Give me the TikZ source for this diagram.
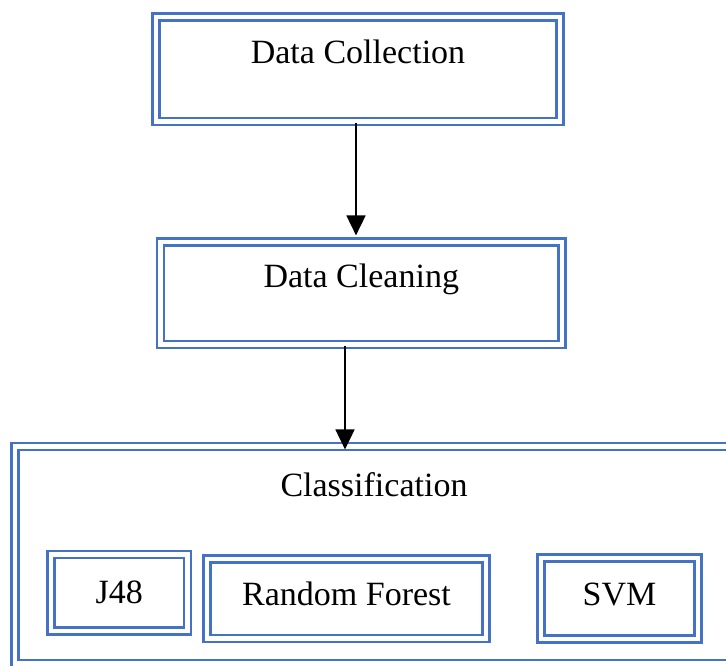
\documentclass[tikz,border=0pt]{standalone}
\usepackage{fontspec}
\setmainfont{Liberation Serif}
\usetikzlibrary{arrows.meta}
\definecolor{boxblue}{RGB}{68,114,196}
\begin{document}
\begin{tikzpicture}[x=1pt,y=-1pt,
  dbox/.style={draw=boxblue, line width=2.2pt, double=white, double distance=4.8pt,
    rectangle, inner sep=0pt, font=\fontsize{34}{40}\selectfont},
  arr/.style={-{Triangle[length=20pt,width=19pt]}, line width=1.8pt, draw=black}]
\useasboundingbox (0,0) rectangle (726,665);
\node[dbox, minimum width=404pt, minimum height=104.5pt, text height=24pt, text depth=36.5pt]
  (dc) at (358,69.25) {Data Collection};
\node[dbox, minimum width=401.5pt, minimum height=102.5pt, text height=24pt, text depth=36.5pt]
  (dcl) at (361.25,293.25) {Data Cleaning};
\node[dbox, minimum width=718pt, minimum height=217pt, text height=24pt, text depth=142pt]
  (cls) at (374,555) {Classification};
\node[dbox, minimum width=136.5pt, minimum height=76.5pt, text height=20.5pt, text depth=0pt]
  (j48) at (119.25,592.75) {J48};
\node[dbox, minimum width=279pt, minimum height=79.5pt, text height=12.5pt, text depth=0pt]
  (rf) at (346.5,598.75) {Random Forest};
\node[dbox, minimum width=157pt, minimum height=81pt, text height=13pt, text depth=0pt]
  (svm) at (619.5,598.5) {SVM};
\coordinate (a1s) at ([xshift=-2pt]dc.south);
\coordinate (a2s) at ([xshift=-16.25pt]dcl.south);
\draw[arr, shorten >=5.5pt] (a1s) -- (a1s |- dcl.north);
\draw[arr, shorten >=-4pt] (a2s) -- (a2s |- cls.north);
\end{tikzpicture}
\end{document}
